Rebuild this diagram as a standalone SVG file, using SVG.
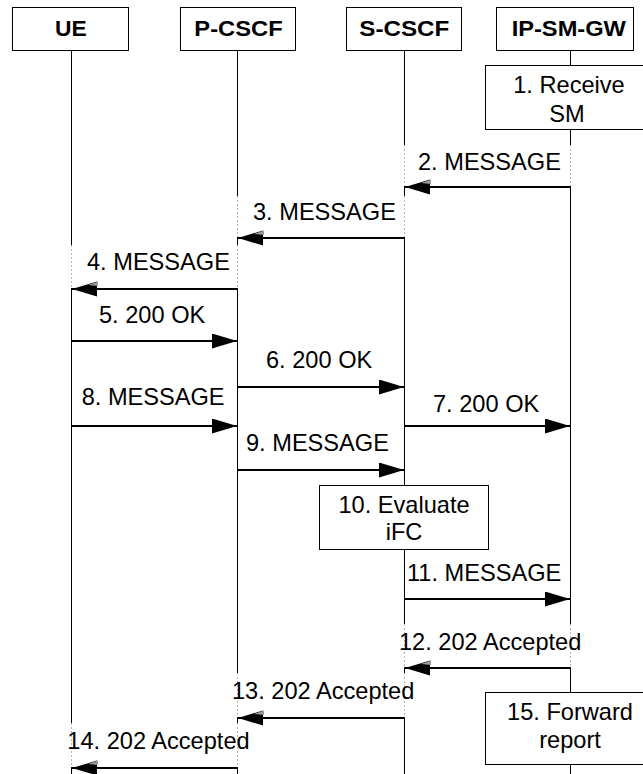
<svg xmlns="http://www.w3.org/2000/svg" width="643" height="774" viewBox="0 0 643 774">
<style>
.box{fill:#fff;stroke:#000;stroke-width:1}
.life{stroke:#000;stroke-width:1}
.hdr{font-family:"Liberation Sans",Arial,sans-serif;font-weight:bold;font-size:22px;text-anchor:middle;fill:#000}
.lbl{font-family:"Liberation Sans",Arial,sans-serif;font-size:23.6px;fill:#000}
.mid{text-anchor:middle}
.msg{stroke:#000;stroke-width:2;fill:none;marker-end:url(#ah)}
.ghost{stroke:#fff;stroke-width:2}
.dots{stroke:#b4b4b4;stroke-width:1;stroke-dasharray:2 2}
.hatch{fill:#9a9a9a}
</style>
<defs>
<marker id="ah" markerUnits="userSpaceOnUse" markerWidth="26" markerHeight="16" refX="25" refY="7.5" orient="auto">
<path d="M0,0 L25,7.5 L0,15 z" fill="#000"/>
</marker>
</defs>
<rect width="643" height="774" fill="#fff"/>

<g id="lifelines">
<line class="life" x1="71.5" y1="50.5" x2="71.5" y2="774"/>
<line class="life" x1="237.5" y1="50.5" x2="237.5" y2="774"/>
<line class="life" x1="404.5" y1="50.5" x2="404.5" y2="774"/>
<line class="life" x1="570.5" y1="50.5" x2="570.5" y2="774"/>
</g>

<g id="ue"><rect class="box" x="12.5" y="7.5" width="116" height="43"/><text class="hdr" x="70.8" y="36" textLength="31.7" lengthAdjust="spacingAndGlyphs">UE</text></g>
<g id="pcscf"><rect class="box" x="180.5" y="7.5" width="115" height="43"/><text class="hdr" x="238.5" y="36" textLength="88.3" lengthAdjust="spacingAndGlyphs">P-CSCF</text></g>
<g id="scscf"><rect class="box" x="346.5" y="7.5" width="115" height="43"/><text class="hdr" x="404.3" y="36" textLength="90" lengthAdjust="spacingAndGlyphs">S-CSCF</text></g>
<g id="ipsmgw"><rect class="box" x="496.5" y="7.5" width="137" height="43"/><text class="hdr" x="568.8" y="36" textLength="114.3" lengthAdjust="spacingAndGlyphs">IP-SM-GW</text></g>

<g id="step1"><rect class="box" x="485.5" y="65.5" width="170" height="64"/><text class="lbl mid" x="569" y="93">1. Receive</text><text class="lbl mid" x="567" y="122">SM</text></g>
<g id="step10"><rect class="box" x="319.5" y="485.5" width="169" height="64"/><text class="lbl mid" x="404" y="513">10. Evaluate</text><text class="lbl mid" x="404" y="540">iFC</text></g>
<g id="step15"><rect class="box" x="485.5" y="692.5" width="170" height="72"/><text class="lbl mid" x="570" y="720">15. Forward</text><text class="lbl mid" x="570" y="748">report</text></g>

<g id="ghosts">
<path class="ghost" d="M404.5,145V186 M570.5,145V186 M237.5,196V237 M404.5,196V237 M71.5,245V288 M237.5,245V288 M404.5,624V667 M570.5,624V667 M237.5,673V717 M404.5,673V717 M71.5,723V767 M237.5,723V767"/>
<path class="dots" d="M404.5,145V186 M570.5,145V186 M237.5,196V237 M404.5,196V237 M71.5,245V288 M237.5,245V288 M404.5,624V667 M570.5,624V667 M237.5,673V717 M404.5,673V717 M71.5,723V767 M237.5,723V767"/>
</g>

<g id="connectors">
<line class="msg" x1="570.5" y1="187" x2="405" y2="187"/>
<line class="msg" x1="404.5" y1="238" x2="238" y2="238"/>
<line class="msg" x1="237.5" y1="289" x2="72" y2="289"/>
<line class="msg" x1="71.5" y1="341" x2="237" y2="341"/>
<line class="msg" x1="237.5" y1="387" x2="404" y2="387"/>
<line class="msg" x1="404.5" y1="426" x2="570" y2="426"/>
<line class="msg" x1="71.5" y1="426" x2="237" y2="426"/>
<line class="msg" x1="237.5" y1="470" x2="404" y2="470"/>
<line class="msg" x1="404.5" y1="599" x2="570" y2="599"/>
<line class="msg" x1="570.5" y1="668" x2="405" y2="668"/>
<line class="msg" x1="404.5" y1="718" x2="238" y2="718"/>
<line class="msg" x1="237.5" y1="768" x2="72" y2="768"/>
<path class="hatch" d="M421,183 L431,179.5 L431,184 z M254,234 L264,230.5 L264,235 z M88,285 L98,281.5 L98,286 z M421,664 L431,660.5 L431,665 z M254,714 L264,710.5 L264,715 z M88,764 L98,760.5 L98,765 z"/>
</g>

<g id="labels">
<text class="lbl" x="418" y="170">2. MESSAGE</text>
<text class="lbl" x="253" y="220">3. MESSAGE</text>
<text class="lbl" x="87" y="270">4. MESSAGE</text>
<text class="lbl" x="99" y="323">5. 200 OK</text>
<text class="lbl" x="266" y="368">6. 200 OK</text>
<text class="lbl" x="433" y="412">7. 200 OK</text>
<text class="lbl" x="81.7" y="405">8. MESSAGE</text>
<text class="lbl" x="246" y="451">9. MESSAGE</text>
<text class="lbl" x="407" y="581">11. MESSAGE</text>
<text class="lbl" x="399" y="650">12. 202 Accepted</text>
<text class="lbl" x="232" y="699">13. 202 Accepted</text>
<text class="lbl" x="67.3" y="749">14. 202 Accepted</text>
</g>
</svg>
